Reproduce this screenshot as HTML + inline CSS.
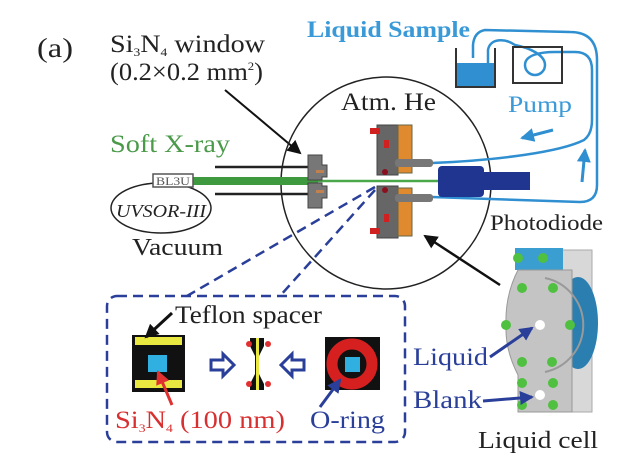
<!DOCTYPE html>
<html><head><meta charset="utf-8"><style>
html,body{margin:0;padding:0;background:#fff}
svg{display:block}
text{font-family:"Liberation Serif",serif}
</style></head><body>
<svg width="621" height="467" viewBox="0 0 621 467" xmlns="http://www.w3.org/2000/svg">
<defs>
<marker id="ab2" markerWidth="14" markerHeight="14" refX="12" refY="7" orient="auto" markerUnits="userSpaceOnUse"><path d="M0,0 L14,7 L0,14 Z" fill="#111"/></marker>
<marker id="abl" markerWidth="14" markerHeight="14" refX="12" refY="7" orient="auto" markerUnits="userSpaceOnUse"><path d="M0,0 L14,7 L0,14 Z" fill="#2a3f99"/></marker>
<marker id="ared" markerWidth="14" markerHeight="14" refX="12" refY="7" orient="auto" markerUnits="userSpaceOnUse"><path d="M0,0 L14,7 L0,14 Z" fill="#e03030"/></marker>
<marker id="acy" markerWidth="14" markerHeight="14" refX="12" refY="7" orient="auto" markerUnits="userSpaceOnUse"><path d="M0,0 L14,7 L0,14 Z" fill="#2f8fd0"/></marker>
</defs>

<text x="37" y="57" font-size="27" fill="#222" textLength="36" lengthAdjust="spacingAndGlyphs">(a)</text>
<text x="110" y="52" font-size="25" fill="#222" textLength="155" lengthAdjust="spacingAndGlyphs">Si<tspan font-size="12" dy="4">3</tspan><tspan dy="-4">N</tspan><tspan font-size="12" dy="4">4</tspan><tspan dy="-4"> window</tspan></text>
<text x="110" y="80" font-size="25" fill="#222" textLength="153" lengthAdjust="spacingAndGlyphs">(0.2×0.2 mm<tspan font-size="12" dy="-10">2</tspan><tspan dy="10">)</tspan></text>
<line x1="225" y1="90" x2="300" y2="153" stroke="#111" stroke-width="2" marker-end="url(#ab2)"/>

<text x="110" y="152" font-size="25" fill="#4a9a4a" textLength="120" lengthAdjust="spacingAndGlyphs">Soft X-ray</text>
<text x="307" y="37" font-size="23" font-weight="bold" fill="#3a9ad8" textLength="163" lengthAdjust="spacingAndGlyphs">Liquid Sample</text>
<text x="508" y="112" font-size="23" fill="#3a9ad8" textLength="64" lengthAdjust="spacingAndGlyphs">Pump</text>
<text x="341" y="110" font-size="25" fill="#222" textLength="95" lengthAdjust="spacingAndGlyphs">Atm. He</text>
<text x="490" y="230" font-size="22" fill="#222" textLength="113" lengthAdjust="spacingAndGlyphs">Photodiode</text>
<text x="132" y="255" font-size="24" fill="#222" textLength="91" lengthAdjust="spacingAndGlyphs">Vacuum</text>

<ellipse cx="386" cy="183" rx="105" ry="106" fill="none" stroke="#222" stroke-width="1.5"/>

<line x1="215" y1="167" x2="310" y2="167" stroke="#222" stroke-width="2.5"/>
<line x1="215" y1="194" x2="310" y2="194" stroke="#222" stroke-width="2.5"/>
<rect x="193" y="177" width="125" height="8" fill="#3f9a3f"/>
<line x1="318" y1="181" x2="440" y2="181" stroke="#4aa84a" stroke-width="2.5"/>
<ellipse cx="161" cy="208" rx="50" ry="25" fill="#fff" stroke="#222" stroke-width="1.5"/>
<rect x="153" y="174" width="40" height="13" fill="#fff" stroke="#555" stroke-width="1.5"/>
<text x="156" y="185" font-size="12" fill="#555" textLength="34" lengthAdjust="spacingAndGlyphs">BL3U</text>
<text x="116" y="217" font-size="18" font-style="italic" fill="#222" textLength="90" lengthAdjust="spacingAndGlyphs">UVSOR-III</text>

<path d="M308 155 h14 v10 h5 v12 h-5 v3 h-14z" fill="#777" stroke="#444"/>
<path d="M308 208 h14 v-10 h5 v-12 h-5 v-3 h-14z" fill="#777" stroke="#444"/>
<rect x="316" y="170" width="8" height="3" fill="#c08050"/>
<rect x="316" y="190" width="8" height="3" fill="#c08050"/>

<g fill="none" stroke="#2f8fd0" stroke-width="2.5">
<path d="M432 163 C500 160 560 152 584 140 Q592 134 592 120 L592 70 Q592 52 575 52 L555 52"/>
<path d="M555 52 C540 52 525 55 525 65 A10 10 0 1 0 545 65 C545 55 530 48 515 45 C505 38 490 38 488 50 L488 65"/>
<path d="M432 197 L580 202 Q597 202 597 185 L597 60 Q597 32 570 32 L485 30 Q474 32 473 45 L473 58"/>
</g>
<line x1="553" y1="130" x2="522" y2="138" stroke="#2f8fd0" stroke-width="3" marker-end="url(#acy)"/>
<line x1="582" y1="182" x2="585" y2="150" stroke="#2f8fd0" stroke-width="3" marker-end="url(#acy)"/>

<rect x="457" y="63" width="37" height="23" fill="#2f8fd0"/>
<path d="M456 48 V87 H495 V48" fill="none" stroke="#333" stroke-width="2"/>
<rect x="513" y="47" width="49" height="36" fill="none" stroke="#333" stroke-width="2"/>

<g>
<rect x="377" y="125" width="21" height="50" fill="#666" stroke="#444"/>
<rect x="398" y="125" width="14" height="48" fill="#e08a30" stroke="#664"/>
<rect x="377" y="186" width="21" height="52" fill="#666" stroke="#444"/>
<rect x="398" y="188" width="14" height="48" fill="#e08a30" stroke="#664"/>
<rect x="370" y="128" width="10" height="6" fill="#d02020"/>
<rect x="370" y="228" width="10" height="6" fill="#d02020"/>
<rect x="384" y="140" width="5" height="8" fill="#d02020"/>
<rect x="384" y="214" width="5" height="8" fill="#d02020"/>
<rect x="395" y="159" width="38" height="8" fill="#777" rx="3"/>
<rect x="395" y="194" width="38" height="8" fill="#777" rx="3"/>
<circle cx="385" cy="172" r="3" fill="#8a1020"/>
<circle cx="385" cy="190" r="3" fill="#8a1020"/>
</g>
<rect x="438" y="166" width="46" height="31" rx="4" fill="#1f3590"/>
<rect x="483" y="172" width="47" height="18" fill="#1f3590"/>

<g stroke="#2a3f99" stroke-width="2.5" stroke-dasharray="10,6" fill="none">
<line x1="375" y1="187" x2="187" y2="296"/>
<line x1="375" y1="190" x2="280" y2="296"/>
<rect x="107" y="296" width="298" height="146" rx="10"/>
</g>

<line x1="500" y1="285" x2="425" y2="236" stroke="#111" stroke-width="2.5" marker-end="url(#ab2)"/>

<text x="175" y="323" font-size="25" fill="#222" textLength="147" lengthAdjust="spacingAndGlyphs">Teflon spacer</text>
<rect x="132" y="335" width="53" height="57" fill="#111"/>
<rect x="135" y="337" width="47" height="8" fill="#e8e840"/>
<rect x="135" y="380" width="47" height="8" fill="#e8e840"/>
<rect x="148" y="355" width="19" height="17" fill="#30b0e0"/>
<line x1="172" y1="313" x2="146" y2="337" stroke="#111" stroke-width="3" marker-end="url(#ab2)"/>
<line x1="172" y1="405" x2="158" y2="372" stroke="#e03030" stroke-width="3" marker-end="url(#ared)"/>

<path d="M211 360 h12 v-6 l11 11 l-11 11 v-6 h-12z" fill="#fff" stroke="#2a3f99" stroke-width="3"/>
<path d="M304 360 h-12 v-6 l-11 11 l11 11 v-6 h12z" fill="#fff" stroke="#2a3f99" stroke-width="3"/>
<path d="M250 338 h14 v8 l-5 10 v18 l5 10 v6 h-14 v-6 l5 -10 v-18 l-5 -10z" fill="#111"/>
<rect x="256" y="338" width="3" height="52" fill="#e8e840"/>
<circle cx="249" cy="344" r="3" fill="#e03030"/><circle cx="268" cy="344" r="3" fill="#e03030"/>
<circle cx="249" cy="384" r="3" fill="#e03030"/><circle cx="268" cy="384" r="3" fill="#e03030"/>

<rect x="325" y="337" width="55" height="53" fill="#111"/>
<circle cx="352" cy="364" r="20" fill="none" stroke="#d62020" stroke-width="11"/>
<rect x="345" y="357" width="15" height="15" fill="#30b0e0"/>
<line x1="320" y1="407" x2="340" y2="380" stroke="#2a3f99" stroke-width="3" marker-end="url(#abl)"/>

<text x="115" y="428" font-size="25" fill="#d83030" textLength="170" lengthAdjust="spacingAndGlyphs">Si<tspan font-size="12" dy="4">3</tspan><tspan dy="-4">N</tspan><tspan font-size="12" dy="4">4</tspan><tspan dy="-4"> (100 nm)</tspan></text>
<text x="310" y="428" font-size="25" fill="#2a3f99" textLength="75" lengthAdjust="spacingAndGlyphs">O-ring</text>

<rect x="560" y="250" width="32" height="162" fill="#d8d8d8" stroke="#aaa"/>
<ellipse cx="578" cy="323" rx="20" ry="46" fill="#2a7fb0"/>
<rect x="515" y="248" width="48" height="22" fill="#3a9fd0"/>
<path d="M518 270 H572 V412 H518 V375 Q505 350 506 325 Q505 295 518 270Z" fill="#c4c4c4" stroke="#999"/>
<path d="M545 278 A48 48 0 0 1 545 372" fill="none" stroke="#999" stroke-width="2"/>
<g fill="#50c040">
<circle cx="518" cy="258" r="5"/><circle cx="543" cy="258" r="5"/>
<circle cx="522" cy="288" r="5"/><circle cx="553" cy="288" r="5"/>
<circle cx="506" cy="325" r="5"/><circle cx="570" cy="325" r="5"/>
<circle cx="522" cy="362" r="5"/><circle cx="552" cy="362" r="5"/>
<circle cx="522" cy="383" r="5"/><circle cx="553" cy="383" r="5"/>
<circle cx="522" cy="405" r="5"/><circle cx="553" cy="405" r="5"/>
</g>
<circle cx="540" cy="325" r="5" fill="#fff"/><circle cx="540" cy="395" r="5" fill="#fff"/>
<line x1="490" y1="357" x2="532" y2="328" stroke="#2a3f99" stroke-width="3" marker-end="url(#abl)"/>
<line x1="483" y1="401" x2="532" y2="397" stroke="#2a3f99" stroke-width="3" marker-end="url(#abl)"/>

<text x="413" y="365" font-size="25" fill="#2a3f99" textLength="75" lengthAdjust="spacingAndGlyphs">Liquid</text>
<text x="413" y="408" font-size="25" fill="#2a3f99" textLength="69" lengthAdjust="spacingAndGlyphs">Blank</text>
<text x="478" y="448" font-size="24" fill="#222" textLength="120" lengthAdjust="spacingAndGlyphs">Liquid cell</text>
</svg>
</body></html>
